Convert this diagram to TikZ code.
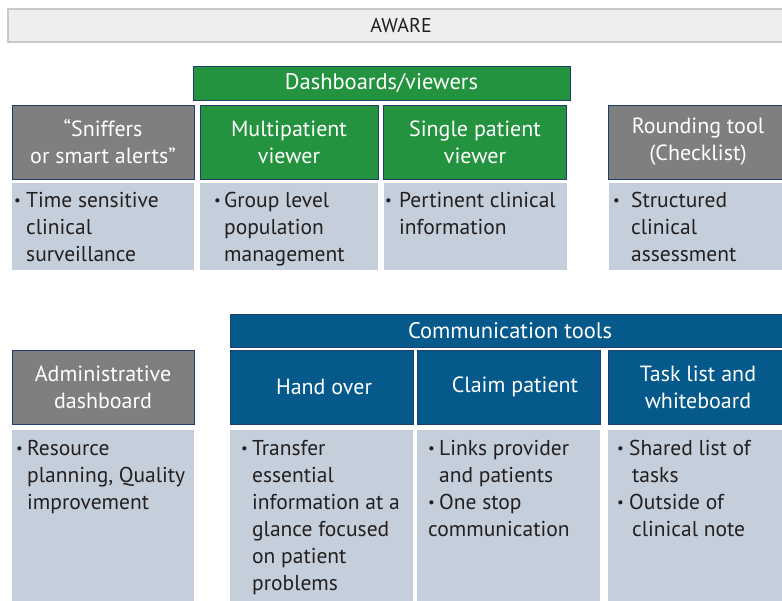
\documentclass[tikz,border=0pt]{standalone}
\usepackage{fontspec}
\setmainfont{PT Sans}
\definecolor{grayhd}{HTML}{7F7F80}
\definecolor{greenhd}{HTML}{24933F}
\definecolor{bluehd}{HTML}{055A8B}
\definecolor{bordc}{HTML}{1F3F6A}
\definecolor{bodyc}{HTML}{C5CFDB}
\definecolor{awf}{HTML}{EEEFED}
\definecolor{awb}{HTML}{C8C9C8}
\definecolor{txtc}{HTML}{231F20}
\newcommand\fl{\rule{0pt}{16pt}}
\newcommand\bl[1][12pt]{\makebox[#1][l]{\raisebox{2pt}{\fontsize{15}{15}\selectfont\textbullet}}}
\newcommand\ind[1][12pt]{\hspace*{#1}}
\begin{document}
\begin{tikzpicture}[x=1pt,y=-1pt,
  box/.style={anchor=north west, inner sep=0pt, outer sep=0pt},
  hdr/.style={box, draw=bordc, line width=0.8pt, text=white, align=center,
    font=\fontsize{22}{27}\selectfont},
  hgray/.style={hdr, fill=grayhd},
  hgreen/.style={hdr, fill=greenhd},
  hblue/.style={hdr, fill=bluehd},
  bodybox/.style={box, fill=bodyc},
  btxt/.style={anchor=north west, inner sep=0pt, align=left, text=txtc,
    font=\fontsize{21.5}{27}\selectfont},
  htxt/.style={inner sep=0pt, text=white, font=\fontsize{22}{27}\selectfont}]
\useasboundingbox (0,0) rectangle (782,601);
\clip (0,0) rectangle (782,601);
\fill[white] (0,0) rectangle (782,601);

% AWARE bar
\node[box, draw=awb, fill=awf, line width=2pt, minimum width=800, minimum height=33] (aware) at (8,9) {};
\node[inner sep=0pt, text=txtc, font=\fontsize{20}{24}\selectfont] (awaretxt) at (401,25.5) {AWARE};

% Dashboards/viewers
\node[hgreen, minimum width=377, minimum height=34, font=\fontsize{22.5}{27}\selectfont] (dash) at (193,66) {Dashboards/viewers};

% Row 1 headers
\node[hgray, minimum width=182, minimum height=74] (sniff) at (12,105) {“Sniffers\\or smart alerts”};
\node[hgreen, minimum width=178, minimum height=74] (multi) at (200,105) {Multipatient\\viewer};
\node[hgreen, minimum width=183, minimum height=74] (single) at (383.5,105) {Single patient\\viewer};
\node[hgray, minimum width=200, minimum height=74] (round) at (608.5,105) {};
\node[htxt, align=center] (roundtxt) at (698,142) {Rounding tool\\(Checklist)};

% Row 1 bodies
\node[bodybox, minimum width=182, minimum height=87] (sniffB) at (12,183) {};
\node[bodybox, minimum width=178, minimum height=87] (multiB) at (200,183) {};
\node[bodybox, minimum width=183, minimum height=87] (singleB) at (383.5,183) {};
\node[bodybox, minimum width=200, minimum height=87] (roundB) at (608.5,183) {};

\node[btxt] (sniffT) at (14,191) {\fl\bl Time sensitive\\\ind clinical\\\ind surveillance};
\node[btxt] (multiT) at (214,191) {\fl\bl[10pt]Group level\\\ind[10pt]population\\\ind[10pt]management};
\node[btxt] (singleT) at (385,191) {\fl\bl[14pt]Pertinent clinical\\\ind[14pt]information};
\node[btxt] (roundT) at (613,191) {\fl\bl[18pt]Structured\\\ind[18pt]clinical\\\ind[18pt]assessment};

% Communication tools
\node[hblue, minimum width=600, minimum height=33] (comm) at (230,314) {};
\node[htxt, font=\fontsize{22.5}{27}\selectfont] (commtxt) at (510,331) {Communication tools};

% Row 2 headers
\node[hgray, minimum width=182, minimum height=74] (admin) at (12,350) {Administrative\\dashboard};
\node[hblue, minimum width=183, minimum height=74] (hand) at (230,350) {};
\node[htxt] (handtxt) at (324,387) {Hand over};
\node[hblue, minimum width=183, minimum height=74] (claim) at (417,350) {};
\node[htxt] (claimtxt) at (515,387) {Claim patient};
\node[hblue, minimum width=200, minimum height=74] (task) at (608,350) {};
\node[htxt, align=center] (tasktxt) at (698,387) {Task list and\\whiteboard};

% Row 2 bodies
\node[bodybox, minimum width=182, minimum height=180] (adminB) at (12,430) {};
\node[bodybox, minimum width=183, minimum height=180] (handB) at (230,430) {};
\node[bodybox, minimum width=183, minimum height=180] (claimB) at (417,430) {};
\node[bodybox, minimum width=200, minimum height=180] (taskB) at (608,430) {};

\node[btxt] (adminT) at (16,439) {\fl\bl[11pt]Resource\\\ind[11pt]planning, Quality\\\ind[11pt]improvement};
\node[btxt] (handT) at (241,439) {\fl\bl[11pt]Transfer\\\ind[11pt]essential\\\ind[11pt]information at a\\\ind[11pt]glance focused\\\ind[11pt]on patient\\\ind[11pt]problems};
\node[btxt] (claimT) at (428,439) {\fl\bl[11pt]Links provider\\\ind[11pt]and patients\\\bl[11pt]One stop\\communication};
\node[btxt] (taskT) at (617,439) {\fl\bl[12pt]Shared list of\\\ind[15pt]tasks\\\bl[12pt]Outside of\\\ind[15pt]clinical note};
\end{tikzpicture}
\end{document}
